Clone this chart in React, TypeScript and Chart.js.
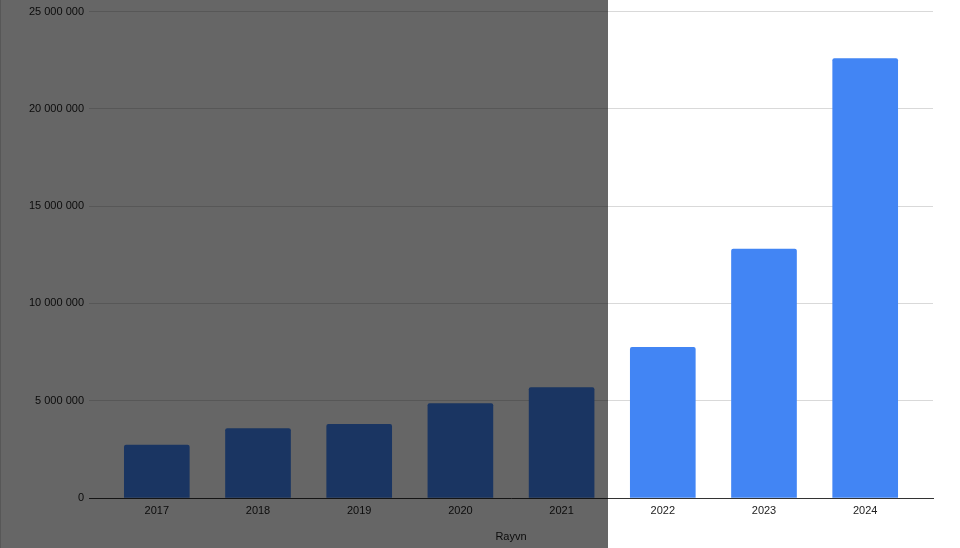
import React, { useEffect, useRef } from "react";
import { Chart, registerables } from "chart.js";

Chart.register(...registerables);

const years = ["2017", "2018", "2019", "2020", "2021", "2022", "2023", "2024"];
const values = [2720000, 3570000, 3790000, 4850000, 5670000, 7750000, 12790000, 22580000];
const yTicks = [0, 5000000, 10000000, 15000000, 20000000, 25000000];
const axisTitle = "Rayvn";

const W = 960;
const H = 548;

function fmt(v: number): string {
  return String(Math.round(v)).replace(/\B(?=(\d{3})+(?!\d))/g, " ");
}

const overlayPlugin = {
  id: "overlay",
  afterDraw(chart: any) {
    const ctx = chart.ctx;
    const xs = chart.scales.x;
    const edge = Math.round((xs.getPixelForValue(4) + xs.getPixelForValue(5)) / 2 - 4);
    ctx.save();
    ctx.fillStyle = "rgba(0,0,0,0.6)";
    ctx.fillRect(0, 0, edge, chart.height);
    ctx.fillStyle = "rgba(0,0,0,0.15)";
    ctx.fillRect(0, 0, 1, chart.height);
    ctx.restore();
  },
};

export default function App() {
  const ref = useRef<HTMLCanvasElement | null>(null);
  useEffect(() => {
    if (!ref.current) return;
    const font = { family: "'Liberation Sans', Arial, sans-serif", size: 11 };
    const chart = new Chart(ref.current, {
      type: "bar",
      data: {
        datasets: [
          {
            data: values.map((v, i) => ({ x: i, y: v })),
            backgroundColor: "#4285F4",
            barThickness: 65,
            borderRadius: 2,
            borderSkipped: "bottom",
          },
        ],
      },
      options: {
        animation: false,
        responsive: false,
        maintainAspectRatio: false,
        layout: { padding: { top: 10, right: 27, left: 0, bottom: 0 } },
        plugins: { legend: { display: false }, tooltip: { enabled: false } },
        scales: {
          x: {
            type: "linear",
            offset: false,
            min: -0.67,
            max: 7.67,
            grid: { display: false, drawTicks: false, offset: false },
            border: { display: true, color: "#333333", width: 1 },
            afterBuildTicks: (s: any) => {
              s.ticks = years.map((_, i) => ({ value: i }));
            },
            afterFit: (s: any) => {
              s.height = 50;
            },
            ticks: {
              autoSkip: false,
              maxRotation: 0,
              padding: 6,
              color: "#222222",
              font,
              callback: (v: any) => years[v as number] ?? "",
            },
            title: {
              display: true,
              text: axisTitle,
              color: "#222222",
              font,
              padding: { top: 0, bottom: 4 },
            },
          },
          y: {
            min: 0,
            max: 25000000,
            afterBuildTicks: (s: any) => {
              s.ticks = yTicks.map((v) => ({ value: v }));
            },
            afterFit: (s: any) => {
              s.width = 89;
            },
            grid: { color: "#d9d9d9", drawTicks: false },
            border: { display: false },
            ticks: {
              padding: 5,
              color: "#222222",
              font,
              callback: (v: any) => fmt(v as number),
            },
          },
        },
      } as any,
      plugins: [overlayPlugin],
    });
    return () => chart.destroy();
  }, []);
  return (
    <div style={{ position: "fixed", left: 0, top: 0, width: W, height: H, background: "#ffffff" }}>
      <canvas ref={ref} width={W} height={H} style={{ width: W, height: H, display: "block" }} />
    </div>
  );
}
